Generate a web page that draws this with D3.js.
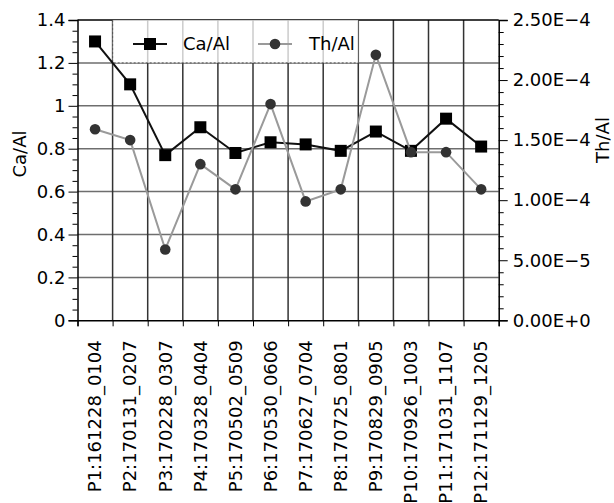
<!DOCTYPE html>
<html>
<head>
<meta charset="utf-8">
<script src="https://cdn.jsdelivr.net/npm/d3@7"></script>
<style>
  html, body { margin: 0; padding: 0; background: #fff; }
  svg { display: block; }
  text { font-family: "DejaVu Sans", sans-serif; fill: #000; }
</style>
</head>
<body>
<svg id="chart" width="614" height="503"></svg>
<script>
// Sampling periods (point id : start date _ end date)
const categories = [
  "P1:161228_0104", "P2:170131_0207", "P3:170228_0307", "P4:170328_0404",
  "P5:170502_0509", "P6:170530_0606", "P7:170627_0704", "P8:170725_0801",
  "P9:170829_0905", "P10:170926_1003", "P11:171031_1107", "P12:171129_1205"
];
// Ca/Al ratio (left axis)
const caAl = [1.30, 1.10, 0.77, 0.90, 0.78, 0.83, 0.82, 0.79, 0.88, 0.79, 0.94, 0.81];
// Th/Al ratio (right axis)
const thAl = [1.59e-4, 1.50e-4, 5.9e-5, 1.30e-4, 1.09e-4, 1.80e-4, 9.9e-5, 1.09e-4, 2.21e-4, 1.40e-4, 1.40e-4, 1.09e-4];
// Axis ticks
const leftTicks = [0, 0.2, 0.4, 0.6, 0.8, 1.0, 1.2, 1.4];
const rightTicks = [0, 5e-5, 1e-4, 1.5e-4, 2e-4, 2.5e-4];

const plot = { left: 77.5, right: 498.7, top: 20, bottom: 320.3 };

const svg = d3.select("#chart");

const x = d3.scaleBand().domain(categories).range([plot.left, plot.right]).padding(0);
const xEdge = d3.scaleLinear().domain([0, categories.length]).range([plot.left, plot.right]);
const yL = d3.scaleLinear().domain([0, 1.4]).range([plot.bottom, plot.top]);
const yR = d3.scaleLinear().domain([0, 2.5e-4]).range([plot.bottom, plot.top]);

// Horizontal grid (left axis majors)
svg.append("g")
  .selectAll("line")
  .data(leftTicks.slice(1, -1))
  .join("line")
  .attr("x1", plot.left).attr("x2", plot.right)
  .attr("y1", d => yL(d)).attr("y2", d => yL(d))
  .attr("stroke", "#6e6e6e").attr("stroke-width", 1.5);

// Vertical grid at category boundaries
svg.append("g")
  .selectAll("line")
  .data(d3.range(1, categories.length))
  .join("line")
  .attr("x1", d => xEdge(d)).attr("x2", d => xEdge(d))
  .attr("y1", plot.top).attr("y2", plot.bottom)
  .attr("stroke", "#333").attr("stroke-width", 1.5);

// Top frame
svg.append("line")
  .attr("x1", plot.left).attr("x2", plot.right)
  .attr("y1", plot.top).attr("y2", plot.top)
  .attr("stroke", "#000").attr("stroke-width", 1.5);

// Legend box (semi-opaque, dotted frame)
const legX0 = xEdge(1), legX1 = xEdge(8), legY0 = plot.top, legY1 = yL(1.2);
svg.append("rect")
  .attr("x", legX0).attr("y", legY0)
  .attr("width", legX1 - legX0).attr("height", legY1 - legY0)
  .attr("fill", "#fff").attr("fill-opacity", 0.75);
svg.append("path")
  .attr("d", `M${legX0},${legY0}V${legY1}H${legX1}`)
  .attr("fill", "none").attr("stroke", "#555").attr("stroke-width", 1)
  .attr("stroke-dasharray", "2,2");

// Left axis
const fmtL = d => d === 0 ? "0" : String(+d.toFixed(1));
const axL = svg.append("g")
  .attr("transform", `translate(${plot.left},0)`)
  .call(d3.axisLeft(yL).tickValues(leftTicks).tickSize(9).tickPadding(3).tickFormat(fmtL));
const minorL = d3.range(1, 28).map(i => i * 0.05).filter(v => Math.abs(v / 0.2 - Math.round(v / 0.2)) > 1e-6);
svg.append("g")
  .attr("transform", `translate(${plot.left},0)`)
  .call(d3.axisLeft(yL).tickValues(minorL).tickSize(5).tickFormat(""))
  .call(g => g.select(".domain").remove());

// Right axis
const fmtR = d => d.toExponential(2).toUpperCase().replace("-", "\u2212");
const axR = svg.append("g")
  .attr("transform", `translate(${plot.right},0)`)
  .call(d3.axisRight(yR).tickValues(rightTicks).tickSize(9).tickPadding(5).tickFormat(fmtR));
const minorR = d3.range(1, 25).map(i => i * 1e-5).filter(v => Math.round(v / 1e-5) % 5 !== 0);
svg.append("g")
  .attr("transform", `translate(${plot.right},0)`)
  .call(d3.axisRight(yR).tickValues(minorR).tickSize(5).tickFormat(""))
  .call(g => g.select(".domain").remove());

// Bottom axis: ticks at category boundaries, labels at centres
svg.append("g")
  .attr("transform", `translate(0,${plot.bottom})`)
  .call(d3.axisBottom(xEdge).tickValues(d3.range(0, categories.length + 1)).tickSize(6).tickFormat(""))
  .call(g => g.select(".domain").attr("stroke-width", 1.5));
svg.append("g")
  .attr("transform", `translate(0,${plot.bottom})`)
  .call(d3.axisBottom(x).tickSize(0).tickPadding(0))
  .call(g => g.select(".domain").remove())
  .selectAll("text")
  .attr("transform", "translate(0,20) rotate(-90)")
  .attr("text-anchor", "end")
  .attr("dx", 0).attr("dy", "0.35em")
  .attr("x", 0).attr("y", 0);

[axL, axR].forEach(g => g.select(".domain").attr("stroke-width", 1.5));
svg.selectAll(".tick line").attr("stroke", "#000");
svg.selectAll(".tick text").style("font-size", "18px").style("font-family", "DejaVu Sans, sans-serif");

// Axis titles
svg.append("text")
  .attr("transform", "translate(26,154) rotate(-90)")
  .attr("text-anchor", "middle")
  .style("font-size", "18px")
  .text("Ca/Al");
svg.append("text")
  .attr("transform", "translate(609,140) rotate(-90)")
  .attr("text-anchor", "middle")
  .style("font-size", "18px")
  .text("Th/Al");

// Ca/Al series
const cx = i => x(categories[i]) + x.bandwidth() / 2;
const lineCa = d3.line().x((d, i) => cx(i)).y(d => yL(d));
svg.append("path").datum(caAl)
  .attr("d", lineCa).attr("fill", "none").attr("stroke", "#111").attr("stroke-width", 2);
svg.append("g").selectAll("rect").data(caAl).join("rect")
  .attr("x", (d, i) => cx(i) - 6)
  .attr("y", d => yL(d) - 6)
  .attr("width", 12).attr("height", 12).attr("fill", "#000");

// Th/Al series
const lineTh = d3.line().x((d, i) => cx(i)).y(d => yR(d));
svg.append("path").datum(thAl)
  .attr("d", lineTh).attr("fill", "none").attr("stroke", "#9a9a9a").attr("stroke-width", 2);
svg.append("g").selectAll("circle").data(thAl).join("circle")
  .attr("cx", (d, i) => cx(i))
  .attr("cy", d => yR(d))
  .attr("r", 5.3).attr("fill", "#333");

// Legend entries
const legY = 44;
const leg = svg.append("g");
leg.append("line").attr("x1", 133).attr("x2", 167).attr("y1", legY).attr("y2", legY)
  .attr("stroke", "#111").attr("stroke-width", 2);
leg.append("rect").attr("x", 150 - 6).attr("y", legY - 6).attr("width", 12).attr("height", 12).attr("fill", "#000");
leg.append("text").attr("x", 183).attr("y", legY).attr("dy", "0.35em").style("font-size", "18px").text("Ca/Al");
leg.append("line").attr("x1", 258).attr("x2", 292).attr("y1", legY).attr("y2", legY)
  .attr("stroke", "#9a9a9a").attr("stroke-width", 2);
leg.append("circle").attr("cx", 275).attr("cy", legY).attr("r", 5.3).attr("fill", "#333");
leg.append("text").attr("x", 309).attr("y", legY).attr("dy", "0.35em").style("font-size", "18px").text("Th/Al");
</script>
</body>
</html>
